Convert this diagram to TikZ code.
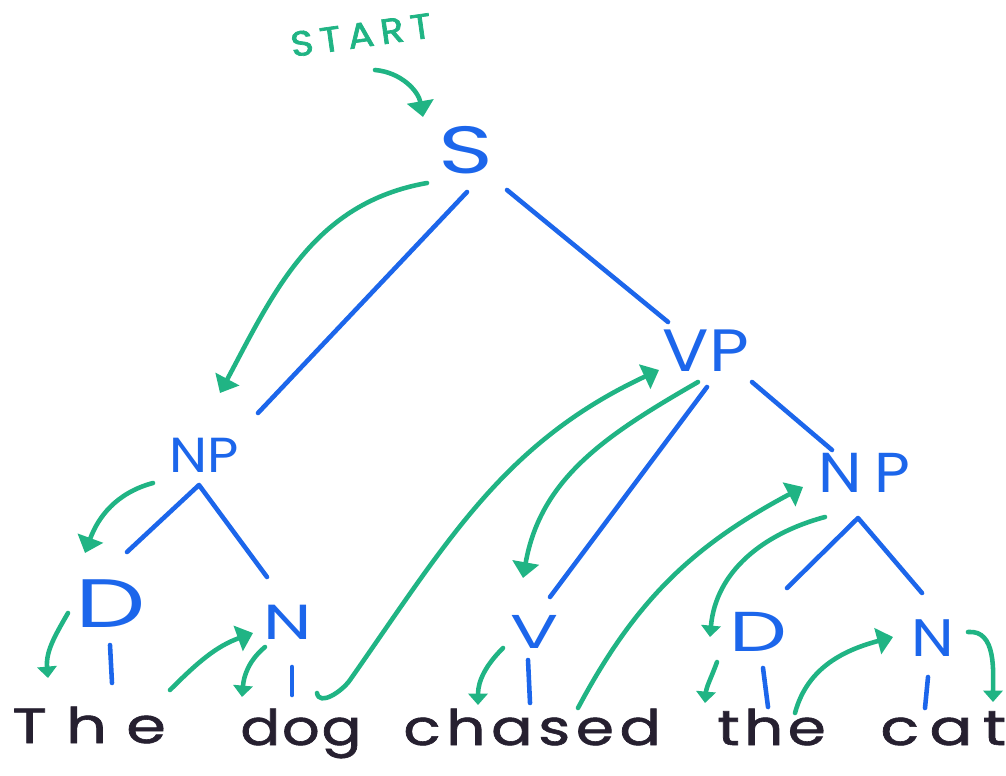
\documentclass[tikz,border=0pt]{standalone}
\usepackage{fontspec}
\usepackage{graphicx}
\usetikzlibrary{arrows.meta,calc}
\newfontfamily\hand{Poppins}
\newcommand{\myfs}[1]{\fontsize{#1}{#1}\selectfont}
\newcommand{\hwide}[2]{\scalebox{#1}[1]{#2}}
\definecolor{tblue}{RGB}{28,102,235}
\definecolor{tgreen}{RGB}{32,180,132}
\definecolor{tink}{RGB}{38,32,48}
\tikzset{
  lab/.style={text=tblue, inner sep=0pt, font=\hand},
  word/.style={text=tink, inner sep=0pt, anchor=base west, font=\hand\myfs{28}},
  branch/.style={draw=tblue, line width=2.6pt, line cap=round, line join=round},
  big/.style={draw=tgreen, line width=2.6pt, line cap=round, -{Triangle[length=9pt,width=15pt]}},
  small/.style={draw=tgreen, line width=2.6pt, line cap=round, -{Triangle[length=6.5pt,width=11pt]}}
}
\begin{document}
\begin{tikzpicture}[x=0.02cm,y=-0.02cm]
\useasboundingbox (0,0) rectangle (1006,776);
% labels
\node[lab, text=tgreen, rotate=8, font=\hand\myfs{20}\addfontfeatures{LetterSpace=18,FakeBold=2}] (start) at (361,35) {\hwide{1.1}{START}};
\node[lab, font=\hand\myfs{38}] (S) at (466,150) {\hwide{1.4}{S}};
\node[lab, font=\hand\myfs{34}] (VP) at (706,351) {\hwide{1.15}{VP}};
\node[lab, font=\hand\myfs{28}] (NPl) at (204,455) {\hwide{1.1}{NP}};
\node[lab, font=\hand\myfs{32}\addfontfeatures{LetterSpace=20}] (NPr) at (864,473) {\hwide{1.1}{NP}};
\node[lab, font=\hand\myfs{39}] (Dl) at (111,604) {\hwide{1.45}{D}};
\node[lab, font=\hand\myfs{28}] (Nl) at (288,622) {\hwide{1.4}{N}};
\node[lab, font=\hand\myfs{27}] (V) at (535,632) {\hwide{1.5}{V}};
\node[lab, font=\hand\myfs{32}] (Dr) at (758,632) {\hwide{1.45}{D}};
\node[lab, font=\hand\myfs{30}] (Nr) at (933,638) {\hwide{1.15}{N}};
% words
\node[word, font=\hand\myfs{28}\addfontfeatures{LetterSpace=30,FakeBold=1.2}] (The) at (12,743) {\hwide{1.3}{The}};
\node[word, font=\hand\myfs{28}\addfontfeatures{LetterSpace=3,FakeBold=1.2}] (dog) at (240,745) {\hwide{1.2}{dog}};
\node[word, font=\hand\myfs{28}\addfontfeatures{LetterSpace=9,FakeBold=1.2}] (chased) at (403,745) {\hwide{1.25}{chased}};
\node[word, font=\hand\myfs{28}\addfontfeatures{LetterSpace=7,FakeBold=1.2}] (the) at (717,745) {\hwide{1.25}{the}};
\node[word, font=\hand\myfs{28}\addfontfeatures{LetterSpace=16,FakeBold=1.2}] (cat) at (880,745) {\hwide{1.3}{cat}};
% tree branches
\draw[branch] ($(S)+(1,42)$) -- ($(NPl)+(54,-42)$);
\draw[branch] ($(S)+(41,40)$) -- ($(VP)+(-38,-29)$);
\draw[branch] ($(VP)+(1,36)$) -- ($(V)+(15,-35)$);
\draw[branch] ($(VP)+(46,31)$) -- ($(NPr)+(-32,-23)$);
\draw[branch] ($(Dl)+(16,-52)$) -- ($(NPl)+(-5,30)$) -- ($(Nl)+(-21,-45)$);
\draw[branch] ($(Dr)+(29,-44)$) -- ($(NPr)+(-6,45)$) -- ($(Nr)+(-11,-45)$);
\draw[branch] ($(Dl)+(-1,41)$) -- ($(The.base west)+(100,-60)$);
\draw[branch] ($(Nl)+(4,45)$) -- ($(dog.base west)+(52,-50)$);
\draw[branch] ($(V)+(-7,28)$) -- ($(chased.base west)+(127,-42)$);
\draw[branch] ($(Dr)+(5,36)$) -- ($(the.base west)+(51,-38)$);
\draw[branch] ($(Nr)+(-5,39)$) -- ($(cat.base west)+(45,-37)$);
% traversal arrows
\draw[big] ($(start)+(14,35)$) to[out=-5,in=100] ($(S)+(-43,-33)$);
\draw[big] ($(S)+(-39,33)$) to[out=190,in=62] ($(NPl)+(16,-62)$);
\draw[big] ($(NPl)+(-51,28)$) to[out=195,in=70] ($(Dl)+(-26,-51)$);
\draw[small] ($(Dl)+(-43,9)$) to[out=240,in=95] ($(The.base west)+(36,-65)$);
\draw[big] ($(The.base west)+(158,-53)$) to[out=45,in=200] ($(Nl)+(-35,11)$);
\draw[small] ($(Nl)+(-23,25)$) to[out=220,in=85] ($(dog.base west)+(2,-48)$);
\draw[big] ($(dog.base west)+(77,-52)$) to[out=-80,in=235] ($(dog.base west)+(110,-65)$) to[out=55,in=205] ($(VP)+(-47,19)$);
\draw[big] ($(VP)+(-8,31)$) to[out=210,in=80] ($(V)+(-12,-54)$);
\draw[small] ($(V)+(-32,16)$) to[out=225,in=90] ($(chased.base west)+(75,-40)$);
\draw[big] ($(chased.base west)+(175,-37)$) to[out=62,in=208] ($(NPr)+(-61,14)$);
\draw[small] ($(NPr)+(-39,44)$) to[out=195,in=85] ($(Dr)+(-48,5)$);
\draw[small] ($(Dr)+(-41,30)$) to[out=250,in=85] ($(the.base west)+(-12,-42)$);
\draw[big] ($(the.base west)+(78,-32)$) to[out=75,in=195] ($(Nr)+(-40,-1)$);
\draw[small] ($(Nr)+(35,-6)$) to[out=5,in=90] ($(cat.base west)+(113,-43)$);
\end{tikzpicture}
\end{document}
